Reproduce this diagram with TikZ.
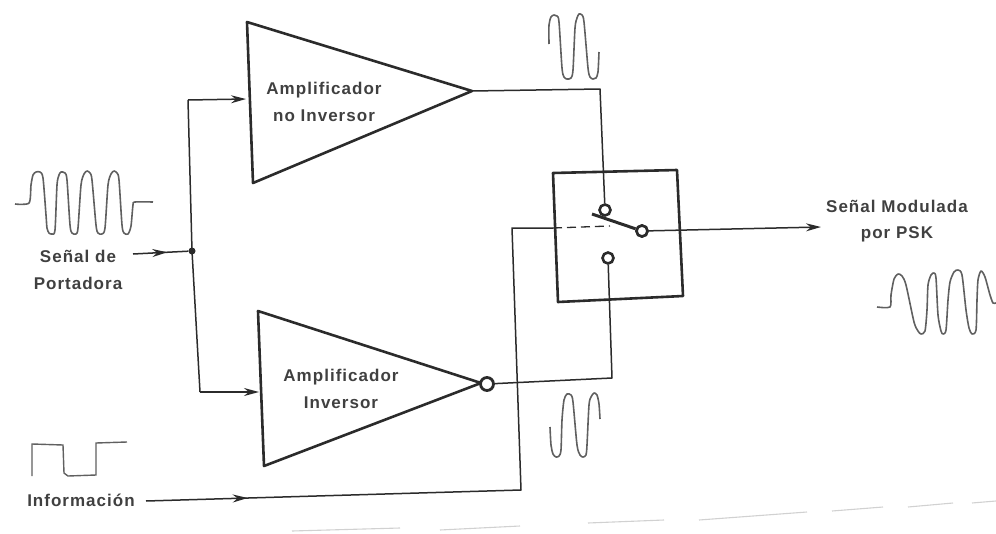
\documentclass[tikz,border=0pt]{standalone}
\usepackage{fontspec}
\setmainfont{Liberation Sans}[LetterSpace=6]
\usetikzlibrary{arrows.meta,decorations.markings}
\definecolor{ink}{gray}{0.17}
\definecolor{txt}{gray}{0.25}
\tikzset{
  heavy/.style={draw=ink,line width=2.6pt,line join=round},
  wire/.style={draw=ink,line width=1.5pt,line join=round},
  wave/.style={draw=ink!75,line width=1.6pt,line join=round,smooth,tension=0.45},
  contact/.style={circle,draw=ink,line width=2.6pt,fill=white,minimum size=11pt,inner sep=0pt},
  bubble/.style={circle,draw=ink,line width=2.8pt,fill=white,minimum size=13pt,inner sep=0pt},
  junction/.style={circle,fill=ink,minimum size=7pt,inner sep=0pt},
  tipped/.style={wire,-{Stealth[length=15pt,width=8pt]}},
  midtip/.style={wire,postaction={decorate},decoration={markings,mark=at position #1 with {\arrow{Stealth[length=15pt,width=8pt]}}}},
  lbl/.style={font=\fontsize{17}{26.5}\selectfont\bfseries,text=txt,align=center,inner sep=0pt},
  scan/.style={draw=black!18,line width=1.1pt}
}
\begin{document}
\begin{tikzpicture}[x=1pt,y=-1pt]
\useasboundingbox (0,0) rectangle (996,533);
% amplifiers
\coordinate (ta) at (247,22); \coordinate (tb) at (253,183); \coordinate (tc) at (472,91);
\coordinate (ba) at (258,311); \coordinate (bb) at (264,466); \coordinate (bc) at (481,383);
\draw[heavy] (ta) -- (tc) -- (tb) -- cycle;
\draw[heavy] (ba) -- (bc) -- (bb) -- cycle;
\node[lbl] (noinv) at (324,102) {Amplificador\\no Inversor};
\node[lbl] (inv) at (341,389) {Amplificador\\Inversor};
% switch box
\draw[heavy] (553,173) -- (677,170) -- (683,296) -- (558,302) -- cycle;
\node[contact] (c1) at (605,210) {};
\node[contact] (c2) at (642,231) {};
\node[contact] (c3) at (608,258) {};
\node[bubble] (nb) at (487,384) {};
% input
\node[junction] (j) at (192,251) {};
\coordinate (in) at (133,254);
\coordinate (jt) at (188,100); \coordinate (jb) at (200,392);
\coordinate (tin) at (246,99); \coordinate (bin) at (259,392);
\draw[midtip=0.62] (in) -- (j);
\draw[wire] (jt) -- (j.center) -- (jb);
\draw[tipped] (jt) -- (tin);
\draw[tipped] (jb) -- (bin);
% outputs to switch
\coordinate (tcorner) at (600,89);
\coordinate (bcorner) at (612,378);
\draw[wire] (tc) -- (tcorner) -- (c1);
\draw[wire] (nb) -- (bcorner) -- (c3);
% output
\coordinate (outend) at (821,227);
\draw[tipped] (c2) -- (outend);
% lever
\coordinate (lev) at (592,214);
\draw[draw=ink,line width=3pt] (lev) -- (c2);
\node[contact] at (c2) {};
% control
\coordinate (is) at (146,501);
\coordinate (ic) at (521,490);
\coordinate (iu) at (512,228);
\coordinate (bx) at (553,228);
\coordinate (dsh) at (610,226);
\draw[midtip=0.15] (is) -- (ic) -- (iu) -- (bx);
\draw[draw=ink,line width=1.3pt,dash pattern=on 9pt off 5pt] (bx) -- (dsh);
% labels
\node[lbl] (port) at (78,270) {Señal de\\Portadora};
\node[lbl] (psk) at (897,221) {Señal Modulada\\por PSK};
\node[lbl] (infor) at (81,500) {Información};
% waves
\draw[wave] plot coordinates {(15,204) (29,203) (31,185) (33,175) (36,172) (40,172) (43,178) (46,215) (47,228) (49,233) (52,234) (55,230) (57,185) (59,175) (61,172) (65,173) (67,180) (70,225) (72,233) (76,234) (78,228) (81,185) (84,174) (87,171) (90,173) (92,180) (96,225) (98,233) (102,234) (105,228) (108,185) (111,174) (114,171) (117,173) (119,180) (122,225) (124,233) (128,234) (131,226) (133,205) (135,202) (153,202)};
\draw[wave] plot coordinates {(549,44) (549,25) (551,17) (554,15) (557,16) (559,22) (562,68) (564,77) (567,79) (571,78) (573,70) (575,28) (577,18) (579,14) (582,15) (584,22) (588,68) (590,77) (593,79) (596,78) (598,72) (599,52)};
\draw[wave] plot coordinates {(550,427) (551,445) (553,454) (556,457) (559,456) (561,450) (562,420) (564,400) (567,394) (571,395) (573,402) (577,445) (580,455) (583,457) (586,455) (587,445) (589,405) (591,397) (594,393) (597,395) (599,404) (600,419)};
\draw[wave] plot coordinates {(877,307) (890,307) (891,295) (894,279) (898,274) (902,276) (906,285) (914,322) (918,331) (921,334) (925,331) (927,310) (928,285) (931,275) (934,273) (936,278) (938,315) (941,331) (943,334) (946,330) (948,300) (950,282) (954,272) (958,270) (962,275) (966,310) (969,328) (972,334) (976,330) (977,300) (978,280) (981,271) (985,277) (990,295) (993,303) (996,303)};
\draw[draw=ink!75,line width=1.4pt] (32,476) -- (32,444) -- (63,445) -- (64,473) -- (68,476) -- (96,475) -- (96,443) -- (127,442);
% scan shadow
\draw[scan] (292,531) -- (400,528);
\draw[scan] (440,530) -- (520,526);
\draw[scan] (588,523) -- (664,520);
\draw[scan] (699,520) -- (807,512);
\draw[scan] (832,511) -- (883,507);
\draw[scan] (908,507) -- (953,503);
\draw[scan] (972,503) -- (996,501);
\end{tikzpicture}
\end{document}
